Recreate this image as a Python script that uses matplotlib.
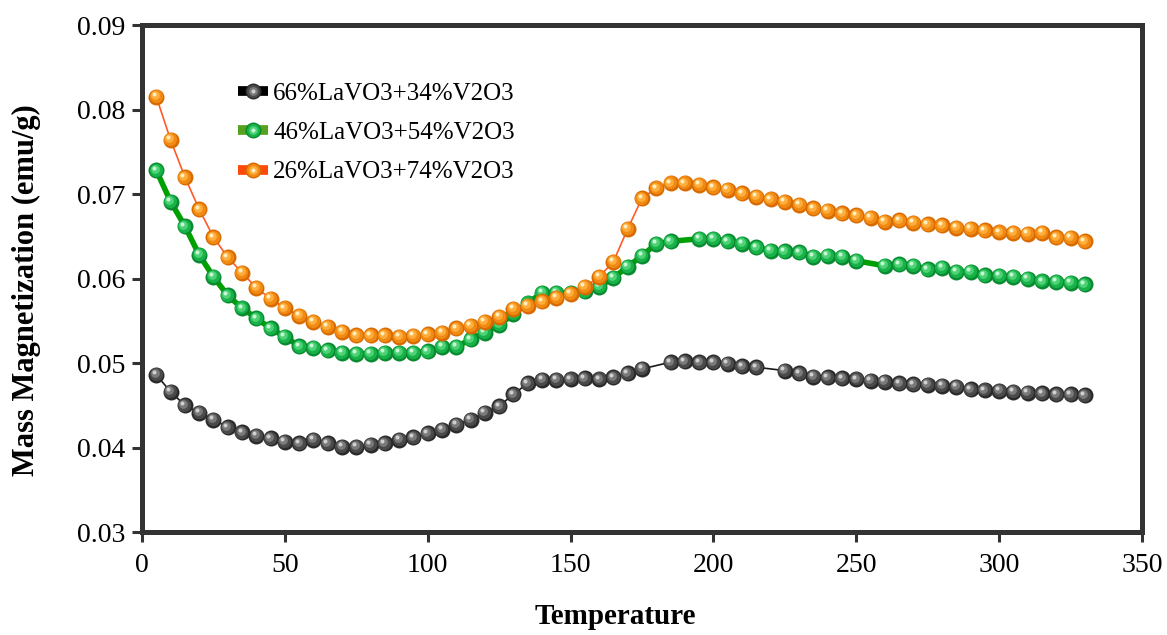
import numpy as np
import matplotlib
matplotlib.use("Agg")
import matplotlib.pyplot as plt
from matplotlib.lines import Line2D
from matplotlib.transforms import offset_copy
from matplotlib.legend_handler import HandlerTuple

plt.rcParams['font.family'] = ['Liberation Serif', 'DejaVu Serif']

# Temperatures and mass magnetization (emu/g) for each composition
temp_66 = list(range(5, 180, 5)) + list(range(185, 220, 5)) + list(range(225, 335, 5))
mag_66 = [0.0486, 0.0466, 0.0450, 0.0441, 0.0433, 0.0424, 0.0418, 0.0414, 0.0411, 0.0407,
          0.0405, 0.0409, 0.0405, 0.0401, 0.0401, 0.0403, 0.0405, 0.0409, 0.0412, 0.0417,
          0.0421, 0.0427, 0.0433, 0.0441, 0.0449, 0.0463, 0.0476, 0.0480, 0.0480, 0.0481,
          0.0482, 0.0481, 0.0483, 0.0488, 0.0493,
          0.0501, 0.0502, 0.0501, 0.0501, 0.0499, 0.0496, 0.0495,
          0.0491, 0.0488, 0.0484, 0.0483, 0.0482, 0.0481, 0.0479, 0.0478, 0.0476, 0.0475,
          0.0474, 0.0473, 0.0472, 0.0469, 0.0468, 0.0467, 0.0466, 0.0465, 0.0464, 0.0463,
          0.0463, 0.0462]

temp_46 = list(range(5, 190, 5)) + list(range(195, 255, 5)) + list(range(260, 335, 5))
mag_46 = [0.0728, 0.0691, 0.0662, 0.0628, 0.0602, 0.0580, 0.0565, 0.0553, 0.0541, 0.0531,
          0.0520, 0.0518, 0.0515, 0.0512, 0.0511, 0.0511, 0.0512, 0.0512, 0.0512, 0.0514,
          0.0519, 0.0519, 0.0528, 0.0536, 0.0545, 0.0558, 0.0571, 0.0583, 0.0583, 0.0583,
          0.0585, 0.0590, 0.0601, 0.0614, 0.0627, 0.0641, 0.0644,
          0.0647, 0.0647, 0.0644, 0.0641, 0.0637, 0.0633, 0.0632, 0.0631, 0.0626, 0.0627,
          0.0626, 0.0621,
          0.0615, 0.0617, 0.0615, 0.0611, 0.0613, 0.0608, 0.0608, 0.0604, 0.0603, 0.0602,
          0.0600, 0.0597, 0.0596, 0.0595, 0.0593]

temp_26 = list(range(5, 335, 5))
mag_26 = [0.0815, 0.0764, 0.0720, 0.0682, 0.0649, 0.0625, 0.0607, 0.0589, 0.0576, 0.0565,
          0.0556, 0.0549, 0.0543, 0.0537, 0.0533, 0.0533, 0.0533, 0.0531, 0.0532, 0.0534,
          0.0536, 0.0541, 0.0544, 0.0549, 0.0555, 0.0564, 0.0568, 0.0573, 0.0577, 0.0582,
          0.0590, 0.0602, 0.0620, 0.0659, 0.0695, 0.0707, 0.0713, 0.0713, 0.0711, 0.0708,
          0.0705, 0.0701, 0.0697, 0.0694, 0.0691, 0.0687, 0.0683, 0.0680, 0.0677, 0.0675,
          0.0672, 0.0667, 0.0669, 0.0666, 0.0664, 0.0663, 0.0660, 0.0659, 0.0657, 0.0655,
          0.0654, 0.0653, 0.0654, 0.0649, 0.0648, 0.0644]

labels = ['66%LaVO3+34%V2O3', '46%LaVO3+54%V2O3', '26%LaVO3+74%V2O3']
x_ticks = [0, 50, 100, 150, 200, 250, 300, 350]
y_ticks = [0.03, 0.04, 0.05, 0.06, 0.07, 0.08, 0.09]

# line colour, line width, sphere shades (edge, body, mid, highlight), legend bar colour
styles = [
    dict(line='#1a1a1a', lw=1.2, shades=['#2a2a2a', '#4a4a4a', '#7a7a7a', '#d0d0d0'], bar='#000000'),
    dict(line='#00a000', lw=4.0, shades=['#0a8a30', '#17b34a', '#4fd275', '#c8f7d5'], bar='#56a11e'),
    dict(line='#ff5a28', lw=1.2, shades=['#d86a00', '#f08a12', '#ffad3c', '#fff0c0'], bar='#ff4a0a'),
]

fig = plt.figure(figsize=(11.67, 6.35), dpi=100)
ax = fig.add_axes([0.1217, 0.1622, 0.8569, 0.7984])

layers = [(11.5, 0, 0), (9.5, -0.6, 0.6), (6.3, -1.5, 1.5), (2.9, -2.5, 2.5)]


def sphere_layers(xs, ys, shades, handle=False):
    arts = []
    for (ms, dx, dy), col in zip(layers, shades):
        if handle:
            a = Line2D([], [], linestyle='none', marker='o', markersize=ms,
                       markerfacecolor=col, markeredgewidth=0)
        else:
            tr = offset_copy(ax.transData, fig=fig, x=dx, y=dy, units='dots')
            a, = ax.plot(xs, ys, linestyle='none', marker='o', markersize=ms,
                         markerfacecolor=col, markeredgewidth=0, transform=tr, zorder=3)
        arts.append(a)
    return arts


handles = []
for xs, ys, st in zip([temp_66, temp_46, temp_26], [mag_66, mag_46, mag_26], styles):
    ax.plot(xs, ys, color=st['line'], lw=st['lw'], zorder=2)
for xs, ys, st in zip([temp_66, temp_46, temp_26], [mag_66, mag_46, mag_26], styles):
    sphere_layers(xs, ys, st['shades'])
    bar = Line2D([], [], color=st['bar'], lw=7, solid_capstyle='butt')
    handles.append(tuple([bar] + sphere_layers(None, None, st['shades'], handle=True)))

ax.set_xlim(0, 350)
ax.set_ylim(0.03, 0.09)
ax.set_xticks(x_ticks)
ax.set_yticks(y_ticks)
ax.set_xticklabels([str(t) for t in x_ticks])
ax.set_yticklabels([f'{t:.2f}' for t in y_ticks])

spine_col = '#333333'
for s in ax.spines.values():
    s.set_linewidth(3.6)
    s.set_color(spine_col)
ax.tick_params(axis='both', direction='out', length=7, width=2.2, color=spine_col,
               labelsize=20, pad=5)
ax.tick_params(axis='x', pad=8)

ax.set_xlabel('Temperature', fontsize=21, fontweight='bold')
ax.set_ylabel('Mass Magnetization (emu/g)', fontsize=22, fontweight='bold')
ax.xaxis.set_label_coords(0.473, -0.14)
ax.yaxis.set_label_coords(-0.101, 0.477)

leg = ax.legend(handles, labels, handler_map={tuple: HandlerTuple(ndivide=1)},
                loc='upper left', bbox_to_anchor=(228 / 1167, 1 - 72 / 635),
                bbox_transform=fig.transFigure, frameon=False, fontsize=18,
                handlelength=1.2, handletextpad=0.2, labelspacing=0.68, borderaxespad=0)

fig.savefig('out.png', dpi=100)
